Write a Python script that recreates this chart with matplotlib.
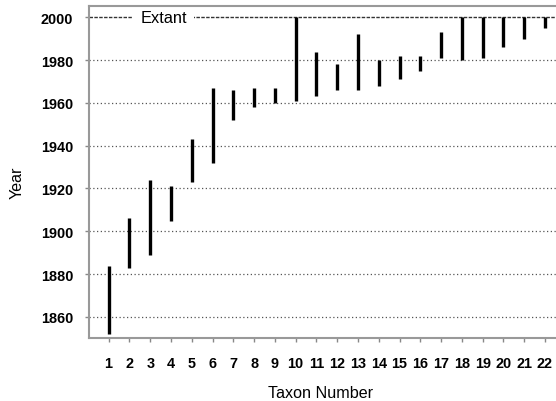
import matplotlib
matplotlib.use("Agg")
import matplotlib.pyplot as plt

plt.rcParams["font.family"] = ["Liberation Sans", "DejaVu Sans"]

# taxon number and the first / last recorded year of each taxon
taxa = list(range(1, 23))
first_year = [1852, 1883, 1889, 1905, 1923, 1932, 1952, 1958, 1960, 1961, 1963,
              1966, 1966, 1968, 1971, 1975, 1981, 1980, 1981, 1986, 1990, 1995]
last_year = [1884, 1906, 1924, 1921, 1943, 1967, 1966, 1967, 1967, 2000, 1984,
             1978, 1992, 1980, 1982, 1982, 1993, 2000, 2000, 2000, 2000, 2000]
year_ticks = [1860, 1880, 1900, 1920, 1940, 1960, 1980, 2000]
extant_year = 2000

W, H = 556, 402
fig = plt.figure(figsize=(W / 100, H / 100), dpi=100)
left, right, top, bottom = 89.3, 556, 6.7, 339.3
ax = fig.add_axes([left / W, 1 - bottom / H, (right - left) / W, (bottom - top) / H])

# dotted grid for all but the extant line
for y in year_ticks[:-1]:
    ax.axhline(y, color="#555555", linestyle=(0, (1, 2)), linewidth=0.9, zorder=1)
ax.axhline(extant_year, color="#333333", linestyle=(0, (2.5, 1)), linewidth=1.0, zorder=1)
ax.text(3.64, extant_year, "Extant", fontsize=11.8, ha="center", va="center",
        bbox=dict(facecolor="white", edgecolor="none", pad=5), zorder=2)

ax.vlines(taxa, first_year, last_year, color="black", linewidth=2.4, zorder=3)

ax.set_xlim(0.07, 22.53)
ax.set_ylim(1850, 2005.4)
ax.set_xticks(taxa)
ax.set_yticks(year_ticks)
ax.tick_params(axis="both", direction="out", length=3, width=1.0, color="#888888",
               labelsize=10.4, pad=8.5)
ax.tick_params(axis="x", pad=9.5)
for lbl in ax.get_xticklabels() + ax.get_yticklabels():
    lbl.set_fontweight("bold")

for side in ("left", "bottom", "top"):
    ax.spines[side].set_color("#999999")
    ax.spines[side].set_linewidth(1.5)
ax.spines["right"].set_visible(False)

ax.set_xlabel("Taxon Number", fontsize=11.6)
ax.set_ylabel("Year", fontsize=11.6)
ax.xaxis.set_label_coords((320.5 - left) / (right - left), (bottom - 386) / (bottom - top))
ax.yaxis.set_label_coords((25 - left) / (right - left), (bottom - 183) / (bottom - top))

fig.savefig("out.png", dpi=100)
